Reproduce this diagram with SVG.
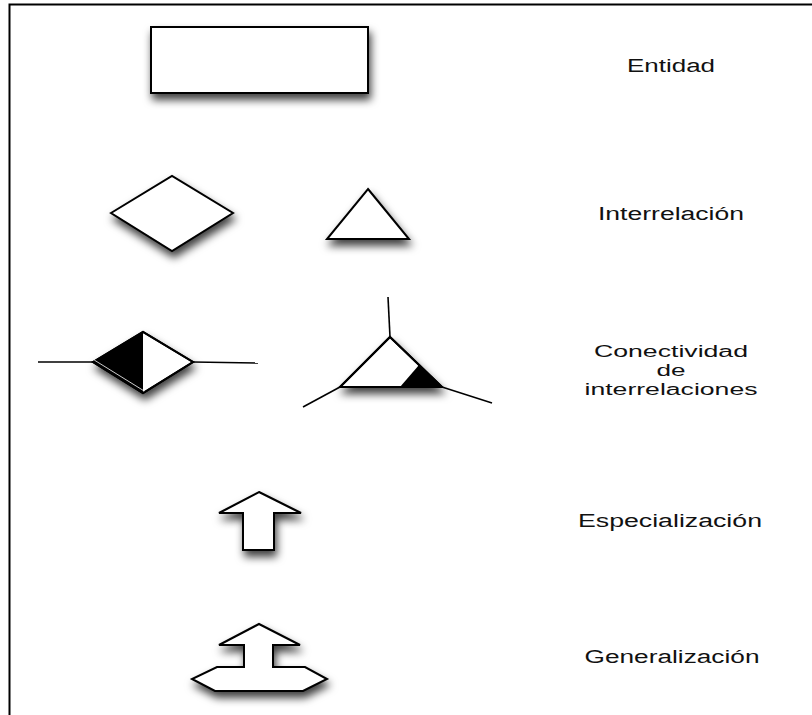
<svg xmlns="http://www.w3.org/2000/svg" width="812" height="715" viewBox="0 0 812 715">
  <defs>
    <filter id="shadow" x="-30%" y="-30%" width="160%" height="180%">
      <feDropShadow dx="2" dy="6" stdDeviation="4" flood-color="#000" flood-opacity="0.75"/>
    </filter>
  </defs>
  <style>
    .shape { fill: #fff; stroke: #000; stroke-width: 2; stroke-linejoin: miter; }
    .dark { fill: #000; stroke: none; }
    .edge { fill: none; stroke: #000; stroke-width: 1.6; }
    .frame { fill: none; stroke: #000; stroke-width: 2; }
    .label { font-family: "Liberation Sans", Arial, sans-serif; font-size: 18px; fill: #111; text-anchor: middle; }
    .stack { font-size: 16px; }
  </style>

  <rect width="812" height="715" fill="#fff"/>

  <!-- page frame -->
  <path class="frame" d="M9.5 715 V4.5 H812"/>

  <!-- entity -->
  <g id="entidad">
    <rect class="shape" x="151" y="27" width="217" height="66" filter="url(#shadow)"/>
    <text class="label" x="671" y="72" textLength="88" lengthAdjust="spacingAndGlyphs">Entidad</text>
  </g>

  <!-- relationship symbols -->
  <g id="interrelacion">
    <polygon class="shape" points="111,213 172,176 233,213 172,251" filter="url(#shadow)"/>
    <polygon class="shape" points="368,189 409,239 327,239" filter="url(#shadow)"/>
    <text class="label" x="671" y="220" textLength="146" lengthAdjust="spacingAndGlyphs">Interrelación</text>
  </g>

  <!-- relationship connectivity -->
  <g id="conectividad">
    <g filter="url(#shadow)">
      <polygon class="shape" points="93,362 143,332 193,362 143,393"/>
    </g>
    <polygon class="dark" points="93,362 143,332 143,393"/>
    <polygon class="shape" style="fill:none" points="93,362 143,332 193,362 143,393"/>
    <line x1="93" y1="362" x2="143" y2="393" stroke="#fff" stroke-width="0.8" transform="translate(1.2,-2)"/>

    <g filter="url(#shadow)">
      <polygon class="shape" points="390,337 442,387 340,387"/>
    </g>
    <polygon class="dark" points="419,365 442,387 400,387"/>
    <polygon class="shape" style="fill:none" points="390,337 442,387 340,387"/>

    <text class="label stack" x="671" y="357" textLength="154" lengthAdjust="spacingAndGlyphs">Conectividad</text>
    <text class="label stack" x="671" y="376" textLength="29" lengthAdjust="spacingAndGlyphs">de</text>
    <text class="label stack" x="671" y="395" textLength="173" lengthAdjust="spacingAndGlyphs">interrelaciones</text>
  </g>

  <!-- specialization -->
  <g id="especializacion">
    <polygon class="shape" points="259,492 301,513 274,513 274,550 243,550 243,513 219,513" filter="url(#shadow)"/>
    <text class="label" x="670" y="527" textLength="184" lengthAdjust="spacingAndGlyphs">Especialización</text>
  </g>

  <!-- generalization -->
  <g id="generalizacion">
    <polygon class="shape" points="259,624 300,645 273,645 273,667 305,667 327,679 303,691 215,691 192,679 217,667 244,667 244,645 219,645" filter="url(#shadow)"/>
    <text class="label" x="672" y="663" textLength="175" lengthAdjust="spacingAndGlyphs">Generalización</text>
  </g>

  <!-- connectors -->
  <g id="connectors">
    <line class="edge" x1="38" y1="362" x2="93" y2="362"/>
    <line class="edge" x1="193" y1="362" x2="258" y2="363"/>
    <line class="edge" x1="388" y1="297" x2="390" y2="337"/>
    <line class="edge" x1="340" y1="387" x2="303" y2="407"/>
    <line class="edge" x1="442" y1="387" x2="492" y2="403"/>
  </g>
</svg>
